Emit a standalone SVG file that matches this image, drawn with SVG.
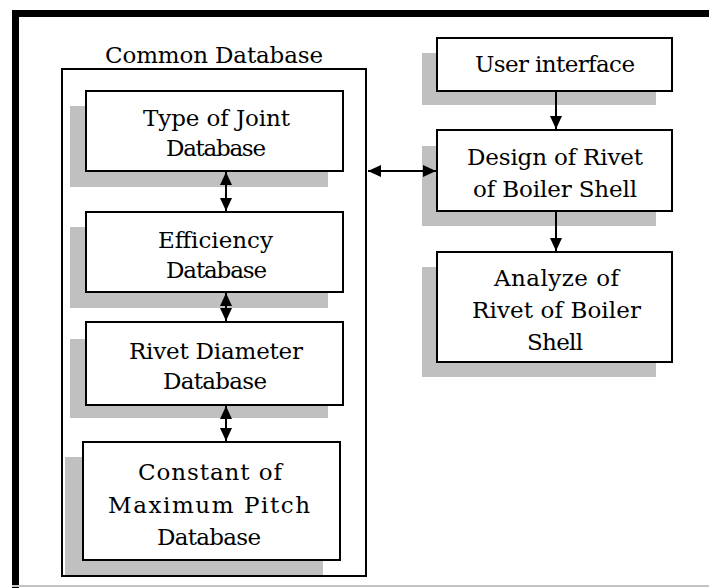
<svg xmlns="http://www.w3.org/2000/svg" width="709" height="588" viewBox="0 0 709 588">
<style>
.shadow{fill:#c0c0c0;stroke:none}
.box{fill:#ffffff;stroke:#000000;stroke-width:2}
.t{font-family:'DejaVu Serif','Liberation Serif','Times New Roman',serif;font-size:23px;fill:#000000;text-anchor:middle}
.c{stroke:#000000;stroke-width:2;fill:none}
</style>
<defs>
<marker id="ah" viewBox="0 0 13 12" refX="13" refY="6" markerWidth="13" markerHeight="12" markerUnits="userSpaceOnUse" orient="auto-start-reverse">
<path d="M0,0 L13,6 L0,12 z" fill="#000000"/>
</marker>
</defs>
<rect x="0" y="0" width="709" height="588" fill="#ffffff"/>
<g id="frame">
<rect x="12" y="10" width="697" height="7" fill="#000000"/>
<rect x="12" y="10" width="7" height="578" fill="#000000"/>
<line x1="12" y1="586" x2="709" y2="586" stroke="#c4c4c4" stroke-width="2"/>
</g>
<g id="common-database">
<rect x="62" y="69" width="304" height="507" fill="none" stroke="#000000" stroke-width="2"/>
<text class="t" x="214" y="63" textLength="218" lengthAdjust="spacing">Common Database</text>
</g>
<g id="type-of-joint">
<rect class="shadow" x="70" y="106" width="258" height="81"/>
<rect class="box" x="86" y="91" width="257" height="80"/>
<text class="t" x="216.5" y="126" textLength="147" lengthAdjust="spacing">Type of Joint</text>
<text class="t" x="216" y="156" textLength="100" lengthAdjust="spacing">Database</text>
</g>
<g id="efficiency">
<rect class="shadow" x="70" y="227" width="258" height="81"/>
<rect class="box" x="86" y="212" width="257" height="80"/>
<text class="t" x="215.5" y="248" textLength="115" lengthAdjust="spacing">Efficiency</text>
<text class="t" x="216.5" y="278" textLength="101" lengthAdjust="spacing">Database</text>
</g>
<g id="rivet-diameter">
<rect class="shadow" x="70" y="339" width="258" height="79"/>
<rect class="box" x="86" y="322" width="257" height="83"/>
<text class="t" x="216" y="359" textLength="174" lengthAdjust="spacing">Rivet Diameter</text>
<text class="t" x="215" y="389" textLength="104" lengthAdjust="spacing">Database</text>
</g>
<g id="constant-max-pitch">
<rect class="shadow" x="65" y="457" width="258" height="118"/>
<rect class="box" x="83" y="442" width="257" height="118"/>
<text class="t" x="210" y="480" textLength="144" lengthAdjust="spacing">Constant of</text>
<text class="t" x="209" y="513" textLength="202" lengthAdjust="spacing">Maximum Pitch</text>
<text class="t" x="209" y="545" textLength="104" lengthAdjust="spacing">Database</text>
</g>
<g id="user-interface">
<rect class="shadow" x="422" y="53" width="234" height="52"/>
<rect class="box" x="437" y="38" width="235" height="53"/>
<text class="t" x="555" y="72" textLength="160" lengthAdjust="spacing">User interface</text>
</g>
<g id="design-rivet">
<rect class="shadow" x="422" y="146" width="234" height="80"/>
<rect class="box" x="437" y="130" width="235" height="81"/>
<text class="t" x="555" y="165" textLength="176" lengthAdjust="spacing">Design of Rivet</text>
<text class="t" x="555" y="197" textLength="164" lengthAdjust="spacing">of Boiler Shell</text>
</g>
<g id="analyze-rivet">
<rect class="shadow" x="422" y="267" width="234" height="110"/>
<rect class="box" x="437" y="252" width="235" height="110"/>
<text class="t" x="556.5" y="286" textLength="125" lengthAdjust="spacing">Analyze of</text>
<text class="t" x="556.5" y="318" textLength="169" lengthAdjust="spacing">Rivet of Boiler</text>
<text class="t" x="555" y="350" textLength="56" lengthAdjust="spacing">Shell</text>
</g>
<g id="connectors">
<line class="c" x1="226" y1="172" x2="226" y2="211" marker-start="url(#ah)" marker-end="url(#ah)"/>
<line class="c" x1="226" y1="293" x2="226" y2="321" marker-start="url(#ah)" marker-end="url(#ah)"/>
<line class="c" x1="226" y1="406" x2="226" y2="441" marker-start="url(#ah)" marker-end="url(#ah)"/>
<line class="c" x1="368" y1="171" x2="436" y2="171" marker-start="url(#ah)" marker-end="url(#ah)"/>
<line class="c" x1="556" y1="92" x2="556" y2="129" marker-end="url(#ah)"/>
<line class="c" x1="556" y1="212" x2="556" y2="251" marker-end="url(#ah)"/>
</g>
</svg>
